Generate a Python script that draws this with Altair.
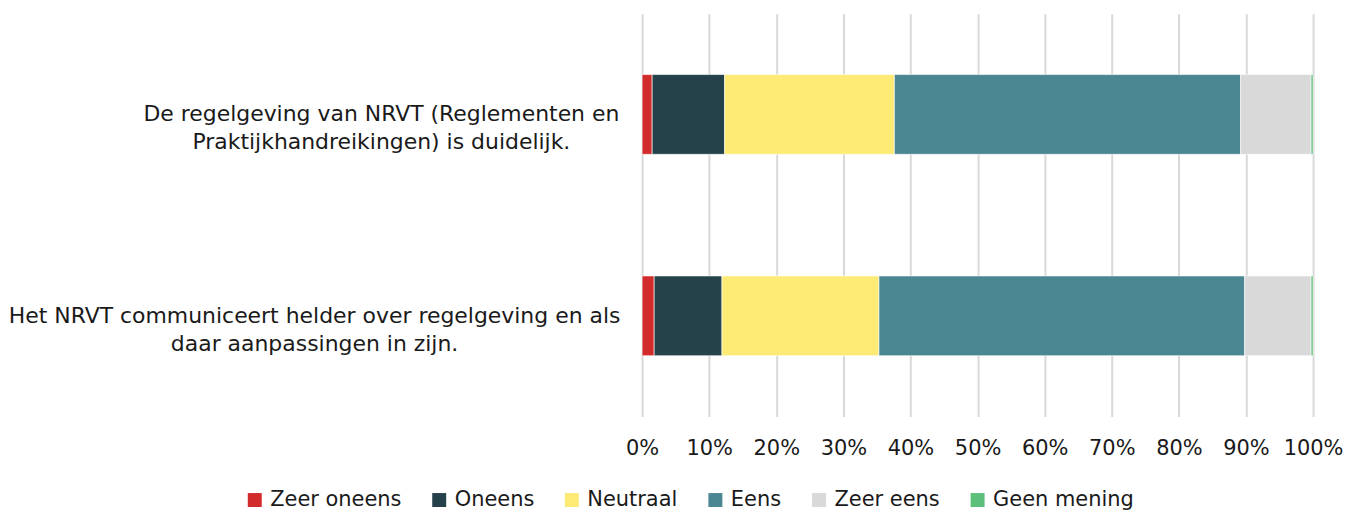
import altair as alt
import pandas as pd

questions = [
    "De regelgeving van NRVT (Reglementen en|Praktijkhandreikingen) is duidelijk.",
    "Het NRVT communiceert helder over regelgeving en als|daar aanpassingen in zijn.",
]
categories = ["Zeer oneens", "Oneens", "Neutraal", "Eens", "Zeer eens", "Geen mening"]
colors = ["#d22b2b", "#25424a", "#fdeb75", "#4a8793", "#d9d9d9", "#5cbf7a"]

# percentages per category, per question
q1_values = [1.5, 10.8, 25.3, 51.6, 10.5, 0.3]
q2_values = [1.8, 10.1, 23.4, 54.5, 9.9, 0.3]

rows = []
for q, vals in zip(questions, [q1_values, q2_values]):
    for i, (c, v) in enumerate(zip(categories, vals)):
        rows.append({"question": q, "category": c, "value": v / 100.0, "order": i})
df = pd.DataFrame(rows)

font = "DejaVu Sans"
fs = 21
txt = "#1a1a1a"

chart = (
    alt.Chart(df)
    .mark_bar(size=80, stroke="white", strokeWidth=0.6)
    .encode(
        x=alt.X(
            "value:Q",
            stack="zero",
            scale=alt.Scale(domain=[0, 1], nice=False),
            axis=alt.Axis(
                format=".0%",
                values=[i / 10 for i in range(11)],
                title=None,
                grid=True,
                gridColor="#d9d9d9",
                gridWidth=2,
                domain=False,
                ticks=False,
                labelFontSize=fs,
                labelFont=font,
                labelColor=txt,
                labelPadding=21,
                labelFlush=False,
            ),
        ),
        y=alt.Y(
            "question:N",
            sort=questions,
            title=None,
            axis=alt.Axis(
                labelExpr="split(datum.label, '|')",
                labelAlign="center",
                labelPadding={
                    "condition": {"test": f"datum.value == '{questions[0]}'", "value": 262},
                    "value": 329,
                },
                labelLimit=800,
                labelFontSize=22,
                labelFont=font,
                labelColor=txt,
                labelLineHeight=28,
                ticks=False,
                domain=False,
            ),
        ),
        color=alt.Color(
            "category:N",
            scale=alt.Scale(domain=categories, range=colors),
            legend=alt.Legend(
                orient="none",
                legendX=-399,
                legendY=477,
                direction="horizontal",
                title=None,
                symbolType="square",
                symbolSize=196,
                symbolStrokeWidth=0,
                labelFontSize=fs,
                labelFont=font,
                labelColor=txt,
                labelOffset=5,
                columnPadding=27,
                padding=0,
            ),
        ),
        order=alt.Order("order:Q"),
    )
    .properties(
        width=673,
        height=404,
        autosize=alt.AutoSizeParams(type="none"),
        padding={"left": 636, "top": 5, "right": 30, "bottom": 95},
    )
    .configure_view(stroke=None)
    .configure_scale(bandPaddingInner=0.6, bandPaddingOuter=0.3)
)

chart.save("out.html", embed_options={"renderer": "svg", "actions": False})
